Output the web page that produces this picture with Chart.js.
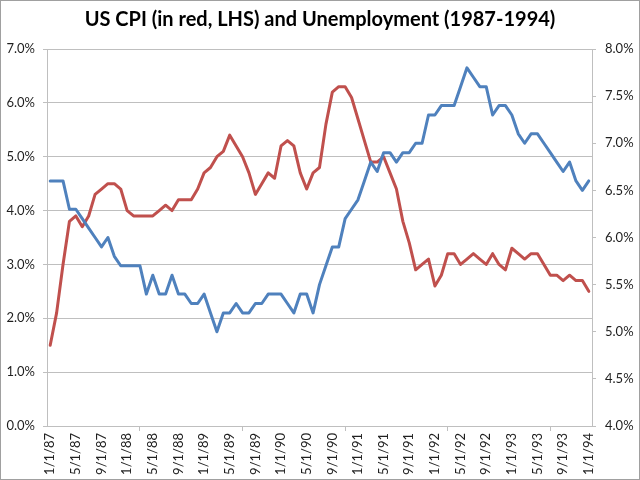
<!DOCTYPE html>
<html>
<head>
<meta charset="utf-8">
<script src="https://cdn.jsdelivr.net/npm/chart.js@4"></script>
<style>
html,body{margin:0;padding:0;background:#fff;}
#wrap{width:640px;height:480px;position:relative;}
</style>
</head>
<body>
<div id="wrap"><canvas id="c" width="640" height="480"></canvas></div>
<script>
// Monthly dates Jan 1987 .. Jan 1994
const years = [87, 88, 89, 90, 91, 92, 93, 94];
const labels = [];
years.forEach(y => {
  for (let m = 1; m <= 12; m++) {
    if (y === 94 && m > 1) break;
    labels.push(m + '/1/' + y);
  }
});

// CPI, year-over-year % (left axis)
const cpi87 = [1.5, 2.1, 3.0, 3.8, 3.9, 3.7, 3.9, 4.3, 4.4, 4.5, 4.5, 4.4];
const cpi88 = [4.0, 3.9, 3.9, 3.9, 3.9, 4.0, 4.1, 4.0, 4.2, 4.2, 4.2, 4.4];
const cpi89 = [4.7, 4.8, 5.0, 5.1, 5.4, 5.2, 5.0, 4.7, 4.3, 4.5, 4.7, 4.6];
const cpi90 = [5.2, 5.3, 5.2, 4.7, 4.4, 4.7, 4.8, 5.6, 6.2, 6.3, 6.3, 6.1];
const cpi91 = [5.7, 5.3, 4.9, 4.9, 5.0, 4.7, 4.4, 3.8, 3.4, 2.9, 3.0, 3.1];
const cpi92 = [2.6, 2.8, 3.2, 3.2, 3.0, 3.1, 3.2, 3.1, 3.0, 3.2, 3.0, 2.9];
const cpi93 = [3.3, 3.2, 3.1, 3.2, 3.2, 3.0, 2.8, 2.8, 2.7, 2.8, 2.7, 2.7];
const cpi94 = [2.5];

// Unemployment rate % (right axis)
const un87 = [6.6, 6.6, 6.6, 6.3, 6.3, 6.2, 6.1, 6.0, 5.9, 6.0, 5.8, 5.7];
const un88 = [5.7, 5.7, 5.7, 5.4, 5.6, 5.4, 5.4, 5.6, 5.4, 5.4, 5.3, 5.3];
const un89 = [5.4, 5.2, 5.0, 5.2, 5.2, 5.3, 5.2, 5.2, 5.3, 5.3, 5.4, 5.4];
const un90 = [5.4, 5.3, 5.2, 5.4, 5.4, 5.2, 5.5, 5.7, 5.9, 5.9, 6.2, 6.3];
const un91 = [6.4, 6.6, 6.8, 6.7, 6.9, 6.9, 6.8, 6.9, 6.9, 7.0, 7.0, 7.3];
const un92 = [7.3, 7.4, 7.4, 7.4, 7.6, 7.8, 7.7, 7.6, 7.6, 7.3, 7.4, 7.4];
const un93 = [7.3, 7.1, 7.0, 7.1, 7.1, 7.0, 6.9, 6.8, 6.7, 6.8, 6.6, 6.5];
const un94 = [6.6];

const cpi = [].concat(cpi87, cpi88, cpi89, cpi90, cpi91, cpi92, cpi93, cpi94);
const unemployment = [].concat(un87, un88, un89, un90, un91, un92, un93, un94);

const titleText = 'US CPI (in red, LHS) and Unemployment (1987-1994)';
const gridGray = '#BFBFBF';
const textColor = '#1f1f1f';

const borderPlugin = {
  id: 'outerBorder',
  afterDraw(chart) {
    const c = chart.ctx;
    c.save();
    c.strokeStyle = '#A0A0A0';
    c.lineWidth = 1;
    c.strokeRect(0.5, 0.5, chart.width - 1, chart.height - 1);
    c.restore();
  }
};

new Chart(document.getElementById('c'), {
  type: 'line',
  data: {
    labels: labels,
    datasets: [
      {
        label: 'CPI',
        data: cpi,
        yAxisID: 'y',
        borderColor: '#C0504D',
        backgroundColor: '#C0504D',
        borderWidth: 3,
        pointRadius: 0,
        tension: 0,
        borderJoinStyle: 'round',
        borderCapStyle: 'round',
        order: 1
      },
      {
        label: 'Unemployment',
        data: unemployment,
        yAxisID: 'y1',
        borderColor: '#4F81BD',
        backgroundColor: '#4F81BD',
        borderWidth: 3,
        pointRadius: 0,
        tension: 0,
        borderJoinStyle: 'round',
        borderCapStyle: 'round',
        order: 0
      }
    ]
  },
  options: {
    responsive: false,
    animation: false,
    devicePixelRatio: 1,
    layout: { padding: { left: 0, right: 0, top: 0, bottom: 0 } },
    plugins: {
      legend: { display: false },
      tooltip: { enabled: false },
      title: {
        display: true,
        text: titleText,
        color: '#000',
        font: { family: 'Lato', size: 20, weight: 'bold' },
        padding: { top: 8, bottom: 17 }
      }
    },
    scales: {
      x: {
        type: 'category',
        offset: true,
        grid: {
          offset: true,
          drawOnChartArea: false,
          drawTicks: true,
          tickLength: 5,
          color: (ctx) => (ctx.index % 4 === 0 ? gridGray : 'rgba(0,0,0,0)')
        },
        border: { display: true, color: gridGray, width: 1 },
        ticks: {
          autoSkip: false,
          maxRotation: 90,
          minRotation: 90,
          padding: 2,
          color: textColor,
          font: { family: 'Lato', size: 13 },
          callback: function (v, i) { return i % 4 === 0 ? labels[i] : null; }
        },
        afterFit: (s) => { s.height = 54; }
      },
      y: {
        position: 'left',
        min: 0,
        max: 7,
        grid: { color: gridGray, tickLength: 4, drawTicks: true },
        border: { display: true, color: gridGray, width: 1 },
        ticks: {
          stepSize: 1,
          padding: 8,
          color: textColor,
          font: { family: 'Lato', size: 13 },
          callback: (v) => v.toFixed(1) + '%'
        },
        afterFit: (s) => { s.width = 47; }
      },
      y1: {
        position: 'right',
        min: 4,
        max: 8,
        grid: { drawOnChartArea: false, color: gridGray, tickLength: 4, drawTicks: true },
        border: { display: true, color: gridGray, width: 1 },
        ticks: {
          stepSize: 0.5,
          padding: 9,
          color: textColor,
          font: { family: 'Lato', size: 13 },
          callback: (v) => v.toFixed(1) + '%'
        },
        afterFit: (s) => { s.width = 48; }
      }
    }
  },
  plugins: [borderPlugin]
});
</script>
</body>
</html>
